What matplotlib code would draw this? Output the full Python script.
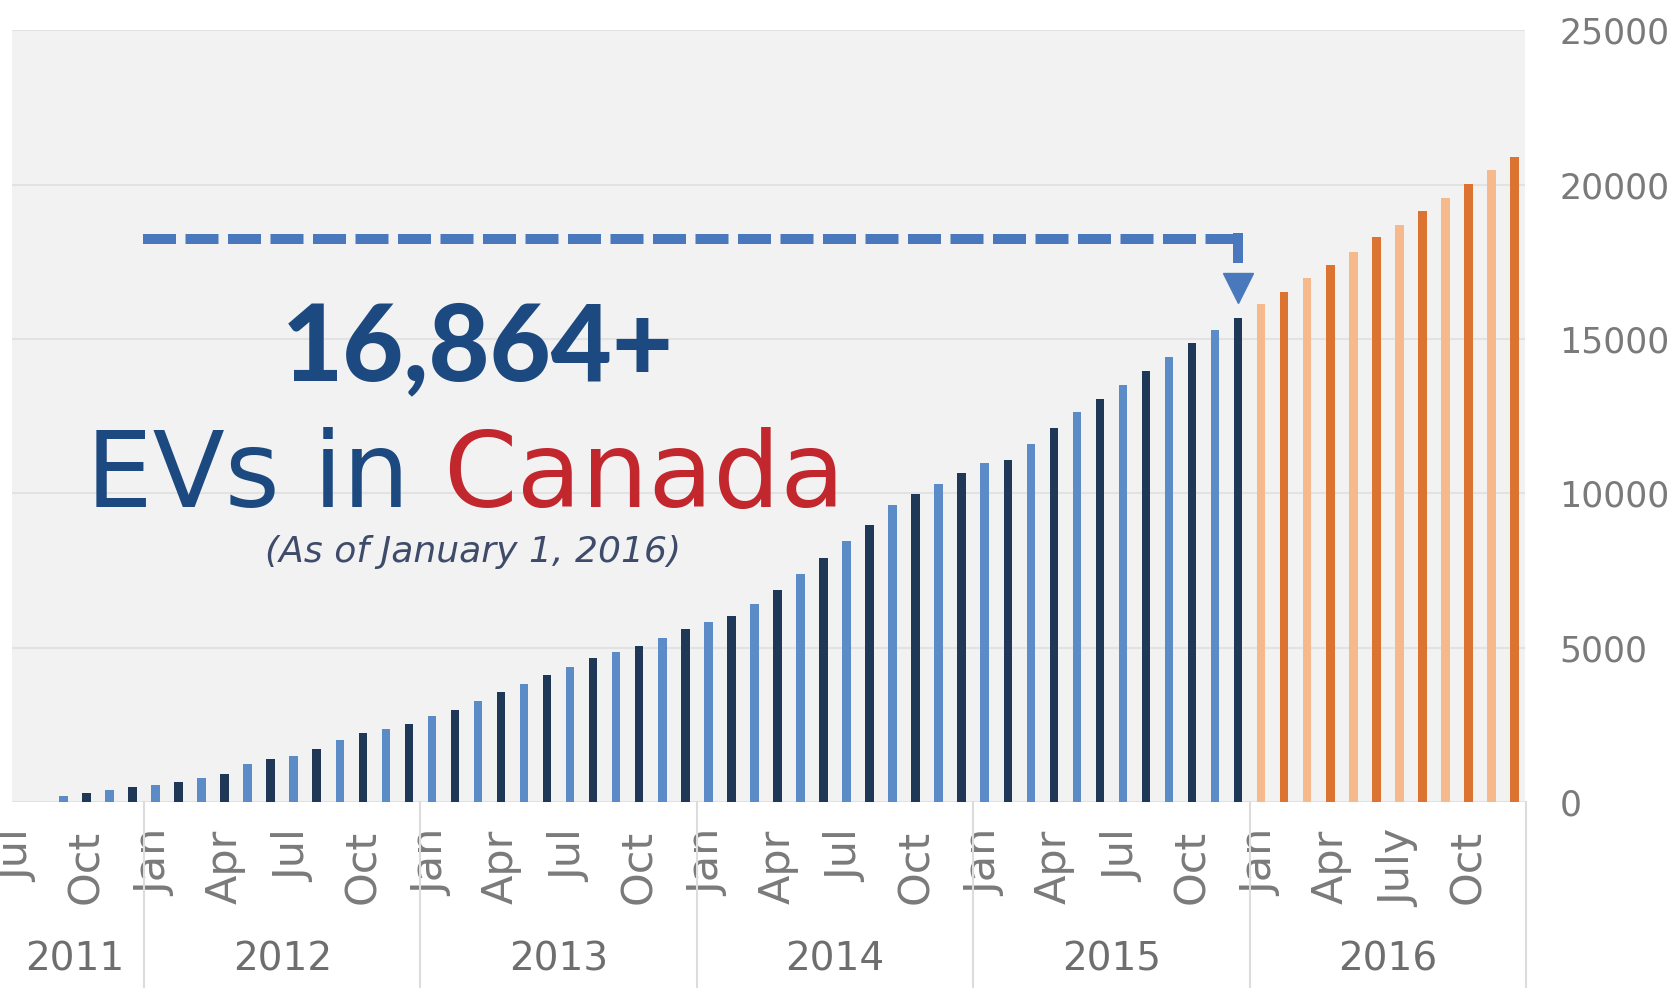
import numpy as np
import matplotlib
matplotlib.use("Agg")
import matplotlib.pyplot as plt
import matplotlib.transforms as mtransforms

plt.rcParams['font.family'] = ['DejaVu Sans']

# Cumulative EVs on the road in Canada, monthly from Jul 2011 to Dec 2016
ev_counts = [
    0, 0, 185, 300, 380, 490,                                                    # 2011 (Jul-Dec)
    560, 640, 780, 910, 1240, 1385, 1500, 1720, 2010, 2220, 2360, 2510,          # 2012
    2800, 2975, 3270, 3550, 3820, 4110, 4370, 4650, 4870, 5050, 5320, 5615,      # 2013
    5830, 6030, 6405, 6860, 7380, 7910, 8450, 8970, 9620, 9975, 10300, 10660,    # 2014
    10980, 11090, 11600, 12120, 12640, 13045, 13510, 13945, 14400, 14860, 15290, 15685,  # 2015
    16120, 16520, 16965, 17390, 17815, 18285, 18695, 19150, 19565, 20020, 20455, 20890,  # 2016 (projected)
]
years = ['2011', '2012', '2013', '2014', '2015', '2016']
months_in_year = [6, 12, 12, 12, 12, 12]
month_labels = ['Jul', 'Oct',
                'Jan', 'Apr', 'Jul', 'Oct',
                'Jan', 'Apr', 'Jul', 'Oct',
                'Jan', 'Apr', 'Jul', 'Oct',
                'Jan', 'Apr', 'Jul', 'Oct',
                'Jan', 'Apr', 'July', 'Oct']
y_ticks = [0, 5000, 10000, 15000, 20000, 25000]

headline = '16,864+'
callout_month = 53          # Dec 2015 bar, the arrow points at it
dash_level = 18230          # height of the dashed callout line

# colours
light_blue = '#5b8cc8'
dark_blue = '#1f3857'
light_orange = '#f6b98b'
dark_orange = '#dd7330'
navy_text = '#1c4a80'
red_text = '#c1272d'
arrow_col = '#4a78bd'
grey_text = '#7a7a7a'

fig = plt.figure(figsize=(16.81, 10.05), dpi=100)
ax = fig.add_axes([0.00714, 0.202, 0.900, 0.768])
ax.set_facecolor('#f2f2f2')

x = np.arange(len(ev_counts))
n_hist = sum(months_in_year[:-1])
colors = []
for i in x:
    if i < n_hist:
        colors.append(dark_blue if i % 2 else light_blue)
    else:
        colors.append(dark_orange if i % 2 else light_orange)

ax.bar(x, ev_counts, width=0.37, color=colors, zorder=2)

ax.set_xlim(-0.23, 65.45)
ax.set_ylim(0, 25000)
ax.set_yticks(y_ticks)
ax.yaxis.tick_right()
ax.grid(axis='y', color='#e2e2e2', linewidth=1.5)
ax.set_axisbelow(True)
for s in ax.spines.values():
    s.set_visible(False)

ax.tick_params(axis='y', length=0, pad=25, labelsize=25, labelcolor=grey_text)

# quarter ticks, rotated month names
ax.set_xticks(np.arange(0, len(ev_counts), 3))
ax.set_xticklabels(month_labels, rotation=90)
ax.tick_params(axis='x', length=0, pad=20, labelsize=31, labelcolor=grey_text)

# year labels and separators below the axis
trans = mtransforms.blended_transform_factory(ax.transData, ax.transAxes)
start = 0
for yr, n in zip(years, months_in_year):
    left = start - 0.5
    right = start + n - 0.5
    ax.text((left + right) / 2, -0.2047, yr, transform=trans, ha='center', va='center',
            fontsize=28, color='#6e6e6e')
    ax.plot([right, right], [0, -0.24], transform=trans, color='#dcdcdc', lw=1.5, clip_on=False)
    start += n

# dashed callout pointing at the Jan 1 2016 count
ax.plot([5.45, callout_month - 0.15], [dash_level, dash_level], color=arrow_col, lw=7.2,
        dashes=(3.3, 0.95), solid_capstyle='butt', dash_capstyle='butt', zorder=3)
ax.plot([callout_month, callout_month], [dash_level + 190, dash_level - 780], color=arrow_col,
        lw=7.2, solid_capstyle='butt', zorder=3)
ax.plot([callout_month], [ev_counts[callout_month] + 950], marker='v', markersize=21,
        color=arrow_col, zorder=3)

# headline text
fig.text(478 / 1681, 1 - 380 / 1005, headline, ha='center', va='baseline',
         fontsize=76, fontweight='black', color=navy_text, family=['Lato', 'DejaVu Sans'])
t1 = fig.text(86 / 1681, 1 - 507 / 1005, 'EVs in', ha='left', va='baseline',
              fontsize=76, color=navy_text)
fig.canvas.draw()
bb = t1.get_window_extent(renderer=fig.canvas.get_renderer())
fig.text((bb.x1 + 34) / 1681, 1 - 507 / 1005, 'Canada', ha='left', va='baseline',
         fontsize=76, color=red_text)
fig.text(473 / 1681, 1 - 552 / 1005, '(As of January 1, 2016)', ha='center', va='center',
         fontsize=26, style='italic', color='#3e4b6a')

fig.savefig('out.png', dpi=100, facecolor='white')
